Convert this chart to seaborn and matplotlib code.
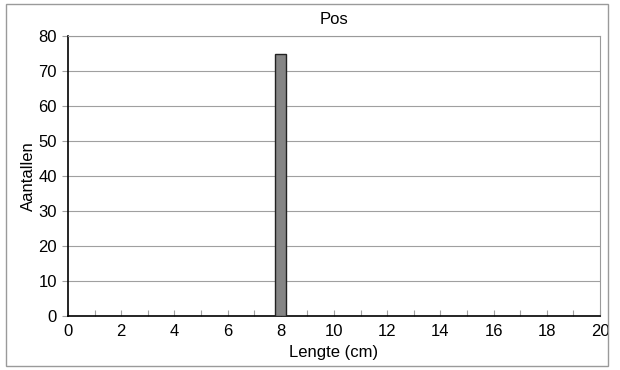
import matplotlib
matplotlib.use("Agg")
import matplotlib.pyplot as plt
import seaborn as sns
import pandas as pd
from matplotlib.patches import Rectangle
from matplotlib.ticker import MultipleLocator

lengths = [8]
counts = [75]
x_ticks = list(range(0, 21, 2))
y_ticks = list(range(0, 81, 10))

sns.set_style("white")
plt.rcParams['font.family'] = ['Liberation Sans', 'DejaVu Sans']
plt.rcParams['text.color'] = 'black'
plt.rcParams['axes.labelcolor'] = 'black'
plt.rcParams['xtick.labelcolor'] = 'black'
plt.rcParams['ytick.labelcolor'] = 'black'

FS = 12

fig = plt.figure(figsize=(6.2, 3.7), dpi=100)
ax = fig.add_axes([68/620, 1-316/370, (600-68)/620, (316-36)/370])

df = pd.DataFrame({"Lengte": lengths, "Aantallen": counts})
sns.barplot(data=df, x="Lengte", y="Aantallen", native_scale=True, width=0.4,
            color="#858585", edgecolor="#222222", linewidth=1, saturation=1, ax=ax, zorder=3)

ax.set_xlim(0, 20)
ax.set_ylim(0, 80)
ax.set_xticks(x_ticks)
ax.set_xticklabels([str(v) for v in x_ticks], fontsize=FS, color="black")
ax.xaxis.set_minor_locator(MultipleLocator(1))
ax.set_yticks(y_ticks)
ax.set_yticklabels([str(v) for v in y_ticks], fontsize=FS, color="black")

ax.yaxis.grid(True, color="#a0a0a0", linewidth=0.8, zorder=0)
ax.set_axisbelow(True)

ax.tick_params(axis="x", which="both", direction="in", length=4, color="#a0a0a0", width=0.8, pad=6, bottom=True)
ax.tick_params(axis="y", direction="out", length=4, color="#a0a0a0", width=0.8, pad=4, left=True)

for s in ["top", "right"]:
    ax.spines[s].set_color("#9a9a9a")
    ax.spines[s].set_linewidth(0.8)
for s in ["left", "bottom"]:
    ax.spines[s].set_color("black")
    ax.spines[s].set_linewidth(1.2)

ax.set_title("Pos", fontsize=FS, pad=9, color="black")
ax.set_xlabel("Lengte (cm)", fontsize=FS, labelpad=4, color="black")
ax.set_ylabel("Aantallen", fontsize=FS, labelpad=2, color="black")

fig.patches.append(Rectangle((6/620, 1-366/370), (608-6)/620, (366-4)/370,
                             transform=fig.transFigure, fill=False,
                             edgecolor="#9a9a9a", linewidth=1))

fig.savefig("out.png", dpi=100)
